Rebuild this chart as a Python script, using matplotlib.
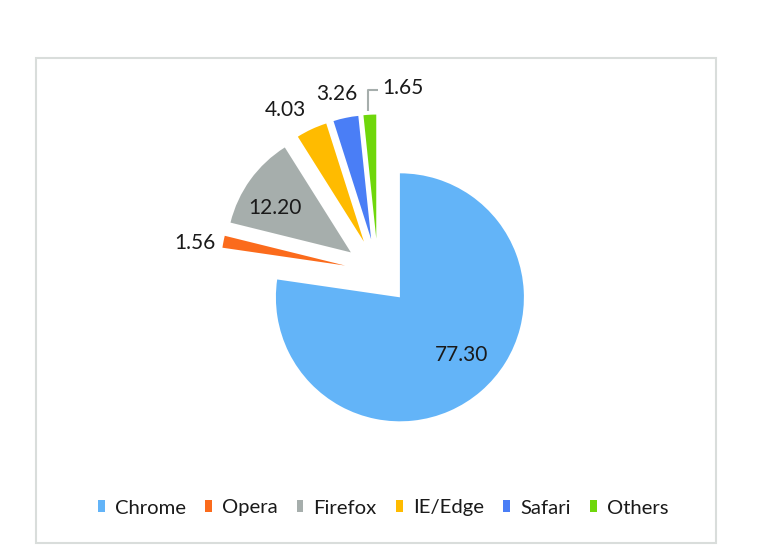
import numpy as np
import matplotlib
matplotlib.use("Agg")
import matplotlib.pyplot as plt
from matplotlib.patches import Rectangle, Patch

# Browser share data
browsers = ["Chrome", "Opera", "Firefox", "IE/Edge", "Safari", "Others"]
shares = [77.30, 1.56, 12.20, 4.03, 3.26, 1.65]
share_labels = ["77.30", "1.56", "12.20", "4.03", "3.26", "1.65"]
colors = ["#63b4f8", "#fb6b1c", "#a6aeac", "#ffbb00", "#4a7ef6", "#6fd70b"]

# label placement relative to each wedge apex (radius units, degrees)
label_rho = [0.685, 1.224, 0.709, 1.237, 1.203, 1.235]
label_ang = [-43.1, 171.4, 149.7, 120.9, 103.2, 79.6]

plt.rcParams['font.family'] = ['Lato', 'DejaVu Sans']

fig = plt.figure(figsize=(7.67, 5.59), dpi=100)
ax = fig.add_axes([0, 0, 1, 1])

# frame around the chart
fig.patches.append(Rectangle((36 / 767, 1 - 543 / 559), (716 - 36) / 767, (543 - 58) / 559,
                             transform=fig.transFigure, fill=False,
                             edgecolor="#d9dddb", linewidth=1.5, zorder=0))

wedges, _ = ax.pie(shares, colors=colors, startangle=90, counterclock=False,
                   explode=[0.27] * len(shares), radius=1.0, center=(0, 0),
                   wedgeprops=dict(linewidth=0), frame=True)

# px -> data: x = (px-378)/124, y = (272-py)/124
ax.set_xlim((0 - 378) / 124, (767 - 378) / 124)
ax.set_ylim((272 - 559) / 124, (272 - 0) / 124)
ax.set_aspect('auto')
ax.axis('off')

for i, w in enumerate(wedges):
    cx, cy = w.center
    a = np.radians(label_ang[i])
    tx = cx + label_rho[i] * np.cos(a)
    ty = cy + label_rho[i] * np.sin(a)
    if browsers[i] == "Others":
        mid = np.radians((w.theta1 + w.theta2) / 2)
        sx = cx + 1.03 * np.cos(mid) - 0.015
        sy = cy + 1.03 * np.sin(mid)
        ax.plot([sx, sx, sx + 0.085], [sy, ty - 0.02, ty - 0.02],
                color="#a6aeac", linewidth=1.5, solid_capstyle='butt')
        ax.text(sx + 0.115, ty, share_labels[i], ha='left', va='center',
                fontsize=15, color="#1a1a1a")
    else:
        ax.text(tx, ty, share_labels[i], ha='center', va='center',
                fontsize=15, color="#1a1a1a")

handles = [Patch(facecolor=c, edgecolor='none') for c in colors]
fig.legend(handles, browsers, loc='center', ncol=6,
           bbox_to_anchor=(383 / 767, 1 - 508 / 559), frameon=False,
           fontsize=14.6, handlelength=0.33, handleheight=0.55,
           handletextpad=0.5, columnspacing=0.95, labelcolor="#1a1a1a")

fig.savefig("out.png", dpi=100)
